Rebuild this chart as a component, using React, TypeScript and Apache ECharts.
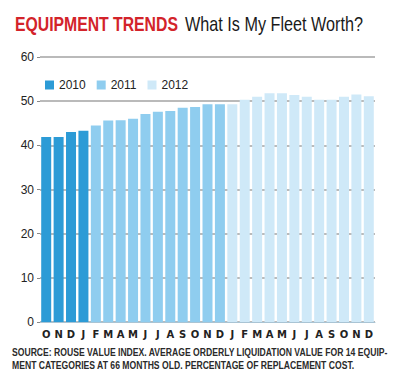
import React, { useEffect, useRef } from "react";
import * as echarts from "echarts";

const months = ["O","N","D","J","F","M","A","M","J","J","A","S","O","N","D","J","F","M","A","M","J","J","A","S","O","N","D"];
const values2010 = [41.9, 41.9, 43.0, 43.3];
const values2011 = [44.5, 45.6, 45.7, 46.0, 47.1, 47.6, 47.8, 48.5, 48.7, 49.3, 49.3];
const values2012 = [49.3, 50.3, 51.0, 51.8, 51.8, 51.4, 51.0, 50.3, 50.3, 51.0, 51.5, 51.1];
const seriesNames = ["2010", "2011", "2012"];
const colors = ["#2c9bd6", "#8fcdef", "#cfe9f8"];
const yTicks = { min: 0, max: 60, interval: 10 };
const titleRed = "EQUIPMENT TRENDS";
const titleBlack = "What Is My Fleet Worth?";
const sourceLines = [
  "SOURCE: ROUSE VALUE INDEX. AVERAGE ORDERLY LIQUIDATION VALUE FOR 14 EQUIP-",
  "MENT CATEGORIES AT 66 MONTHS OLD. PERCENTAGE OF REPLACEMENT COST.",
];

const SANS = "'Liberation Sans', Arial, sans-serif";

function fitScale(text: string, font: string, target: number): number {
  const ctx = document.createElement("canvas").getContext("2d");
  if (!ctx) return 0.8;
  ctx.font = font;
  const w = ctx.measureText(text).width;
  return w > 0 ? target / w : 0.8;
}

export default function App() {
  const ref = useRef<HTMLDivElement>(null);
  useEffect(() => {
    document.body.style.margin = "0";
    if (!ref.current) return;
    const chart = echarts.init(ref.current, null, { renderer: "svg" });
    const n = months.length;
    const groups = [values2010, values2011, values2012];
    let offset = 0;
    const series = groups.map((vals, gi) => {
      const data: (number | null)[] = new Array(n).fill(null);
      vals.forEach((v, i) => (data[offset + i] = v));
      offset += vals.length;
      return {
        name: seriesNames[gi],
        type: "bar",
        stack: "all",
        data,
        barWidth: 10,
        itemStyle: { color: colors[gi] },
      };
    });
    const fRed = `bold 21px ${SANS}`;
    const fBlack = `21px ${SANS}`;
    const fSrc = `bold 10px ${SANS}`;
    const sRed = fitScale(titleRed, fRed, 163);
    const sBlack = fitScale(titleBlack, fBlack, 178);
    const sSrc1 = fitScale(sourceLines[0], fSrc, 376);
    const sSrc2 = sSrc1;
    chart.setOption({
      animation: false,
      backgroundColor: "#ffffff",
      grid: { left: 40, right: 25, top: 57, bottom: 63 },
      legend: {
        left: 40,
        top: 74,
        itemWidth: 9,
        itemHeight: 9,
        itemGap: 11,
        icon: "rect",
        textStyle: { fontSize: 12, color: "#222", fontFamily: SANS },
        data: seriesNames,
      },
      xAxis: {
        type: "category",
        data: months,
        axisLine: { show: true, lineStyle: { color: "#a9c4d4", width: 1 } },
        axisTick: { show: false },
        axisLabel: {
          interval: 0,
          fontSize: 10,
          fontWeight: "bold",
          color: "#222",
          margin: 7,
          fontFamily: "'DejaVu Sans', sans-serif",
        },
      },
      yAxis: {
        type: "value",
        min: yTicks.min,
        max: yTicks.max,
        interval: yTicks.interval,
        axisLine: { show: false },
        axisTick: { show: true, length: 3, lineStyle: { color: "#888" } },
        axisLabel: {
          fontSize: 12,
          color: "#222",
          margin: 6,
          fontFamily: SANS,
        },
        splitLine: { lineStyle: { color: "#a3a3a3", width: 1.5 } },
      },
      graphic: [
        {
          type: "text",
          x: 15,
          y: 24,
          scaleX: sRed,
          style: { text: titleRed, fill: "#d3232a", font: fRed, verticalAlign: "middle" },
        },
        {
          type: "text",
          x: 185,
          y: 24,
          scaleX: sBlack,
          style: { text: titleBlack, fill: "#1a1a1a", font: fBlack, verticalAlign: "middle" },
        },
        {
          type: "text",
          x: 12,
          y: 353,
          scaleX: sSrc1,
          style: { text: sourceLines[0], fill: "#2a2a2a", font: fSrc, verticalAlign: "middle" },
        },
        {
          type: "text",
          x: 12,
          y: 366,
          scaleX: sSrc2,
          style: { text: sourceLines[1], fill: "#2a2a2a", font: fSrc, verticalAlign: "middle" },
        },
      ],
      series,
    });
    return () => chart.dispose();
  }, []);
  return <div ref={ref} style={{ width: 400, height: 385 }} />;
}
